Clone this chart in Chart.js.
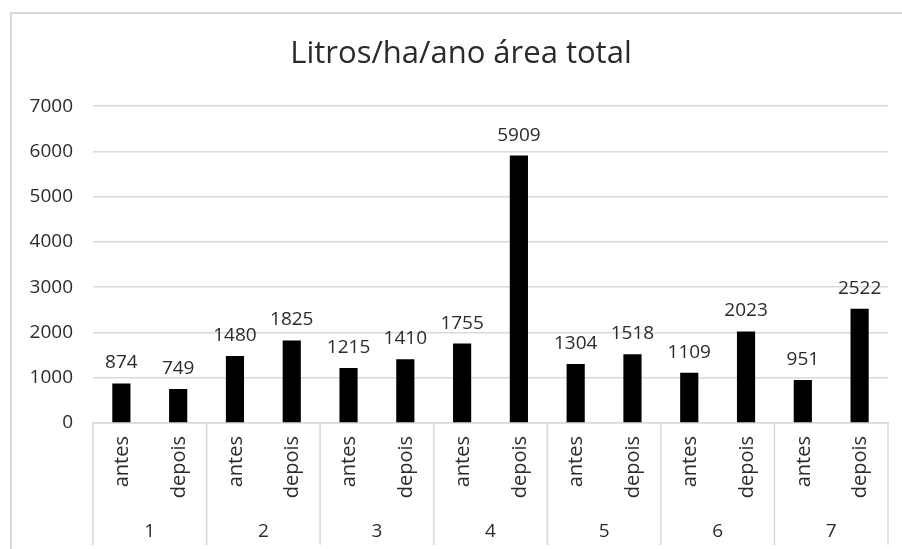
<!DOCTYPE html>
<html>
<head>
<meta charset="utf-8">
<script src="https://cdn.jsdelivr.net/npm/chart.js@4.4.1/dist/chart.umd.min.js"></script>
<style>
  html, body { margin: 0; padding: 0; background: #ffffff; }
  #wrap { width: 902px; height: 549px; }
</style>
</head>
<body>
<div id="wrap"><canvas id="c" width="902" height="549"></canvas></div>
<script>
// Farms and the two measurement moments
const groups = ['1', '2', '3', '4', '5', '6', '7'];
const moments = ['antes', 'depois'];

// Litres per hectare per year, before and after
const antes  = [874, 1480, 1215, 1755, 1304, 1109, 951];
const depois = [749, 1825, 1410, 5909, 1518, 2023, 2522];

// Value axis ticks
const yTicks = [0, 1000, 2000, 3000, 4000, 5000, 6000, 7000];

const FONT = "'Open Sans', 'Noto Sans', sans-serif";
const TEXT = '#2b2b2b';
const LINE = '#d9d9d9';

// Interleave the two series into one category sequence: 1 antes, 1 depois, 2 antes, ...
const labels = [];
const values = [];
groups.forEach((g, i) => {
  labels.push([g, moments[0]]);
  values.push(antes[i]);
  labels.push([g, moments[1]]);
  values.push(depois[i]);
});

// Frame, value labels and the two-level category axis
const decorations = {
  id: 'decorations',
  afterLayout(chart) {
    // centre the title over the plot rather than the whole canvas
    if (chart.titleBlock) chart.titleBlock.left = 34;
  },
  beforeDraw(chart) {
    const ctx = chart.ctx;
    ctx.save();
    ctx.strokeStyle = LINE;
    ctx.lineWidth = 2;
    ctx.beginPath();
    ctx.moveTo(11, 560);
    ctx.lineTo(11, 13);
    ctx.lineTo(910, 13);
    ctx.stroke();
    ctx.restore();
  },
  afterDatasetsDraw(chart) {
    const ctx = chart.ctx;
    const meta = chart.getDatasetMeta(0);
    ctx.save();
    ctx.font = '19px ' + FONT;
    ctx.fillStyle = TEXT;
    ctx.textAlign = 'center';
    ctx.textBaseline = 'alphabetic';
    meta.data.forEach((bar, i) => {
      ctx.fillText(String(values[i]), bar.x, bar.y - 15);
    });
    ctx.restore();
  },
  afterDraw(chart) {
    const ctx = chart.ctx;
    const xs = chart.scales.x;
    const area = chart.chartArea;
    ctx.save();

    // group separators below the axis
    ctx.strokeStyle = LINE;
    ctx.lineWidth = 1.5;
    for (let k = 0; k <= groups.length; k++) {
      let x;
      if (k === 0) x = area.left;
      else if (k === groups.length) x = area.right;
      else x = (xs.getPixelForValue(2 * k - 1) + xs.getPixelForValue(2 * k)) / 2;
      ctx.beginPath();
      ctx.moveTo(x, area.bottom);
      ctx.lineTo(x, 545);
      ctx.stroke();
    }

    // rotated inner labels
    ctx.fillStyle = TEXT;
    ctx.font = '20px ' + FONT;
    ctx.textAlign = 'right';
    ctx.textBaseline = 'middle';
    labels.forEach((lab, i) => {
      const x = xs.getPixelForValue(i);
      ctx.save();
      ctx.translate(x + 1, area.bottom + 13);
      ctx.rotate(-Math.PI / 2);
      ctx.fillText(lab[1], 0, 0);
      ctx.restore();
    });

    // outer group labels
    ctx.textAlign = 'center';
    ctx.font = '19px ' + FONT;
    groups.forEach((g, k) => {
      const x = (xs.getPixelForValue(2 * k) + xs.getPixelForValue(2 * k + 1)) / 2;
      ctx.fillText(g, x, 532);
    });
    ctx.restore();
  }
};

new Chart(document.getElementById('c'), {
  type: 'bar',
  data: {
    labels: labels,
    datasets: [{
      data: values,
      backgroundColor: '#000000',
      borderWidth: 0,
      categoryPercentage: 1,
      barPercentage: 0.32
    }]
  },
  options: {
    responsive: false,
    animation: false,
    devicePixelRatio: 1,
    layout: { padding: { left: 0, right: 14, top: 0, bottom: 0 } },
    plugins: {
      legend: { display: false },
      tooltip: { enabled: false },
      title: {
        display: true,
        text: 'Litros/ha/ano área total',
        color: TEXT,
        font: { family: FONT, size: 31, weight: 'normal', lineHeight: 1.2 },
        padding: { top: 36, bottom: 33 }
      }
    },
    scales: {
      x: {
        display: true,
        grid: { display: false, drawTicks: false },
        ticks: { display: false },
        border: { display: true, color: LINE, width: 1.5 },
        afterFit(scale) { scale.height = 126; }
      },
      y: {
        min: yTicks[0],
        max: yTicks[yTicks.length - 1],
        afterBuildTicks(scale) { scale.ticks = yTicks.map(v => ({ value: v })); },
        grid: { color: LINE, lineWidth: 1.5, drawTicks: false },
        border: { display: false },
        ticks: {
          color: TEXT,
          padding: 20,
          font: { family: FONT, size: 19 },
          callback: (v) => String(v)
        },
        afterFit(scale) { scale.width = 93; }
      }
    }
  },
  plugins: [decorations]
});
</script>
</body>
</html>
